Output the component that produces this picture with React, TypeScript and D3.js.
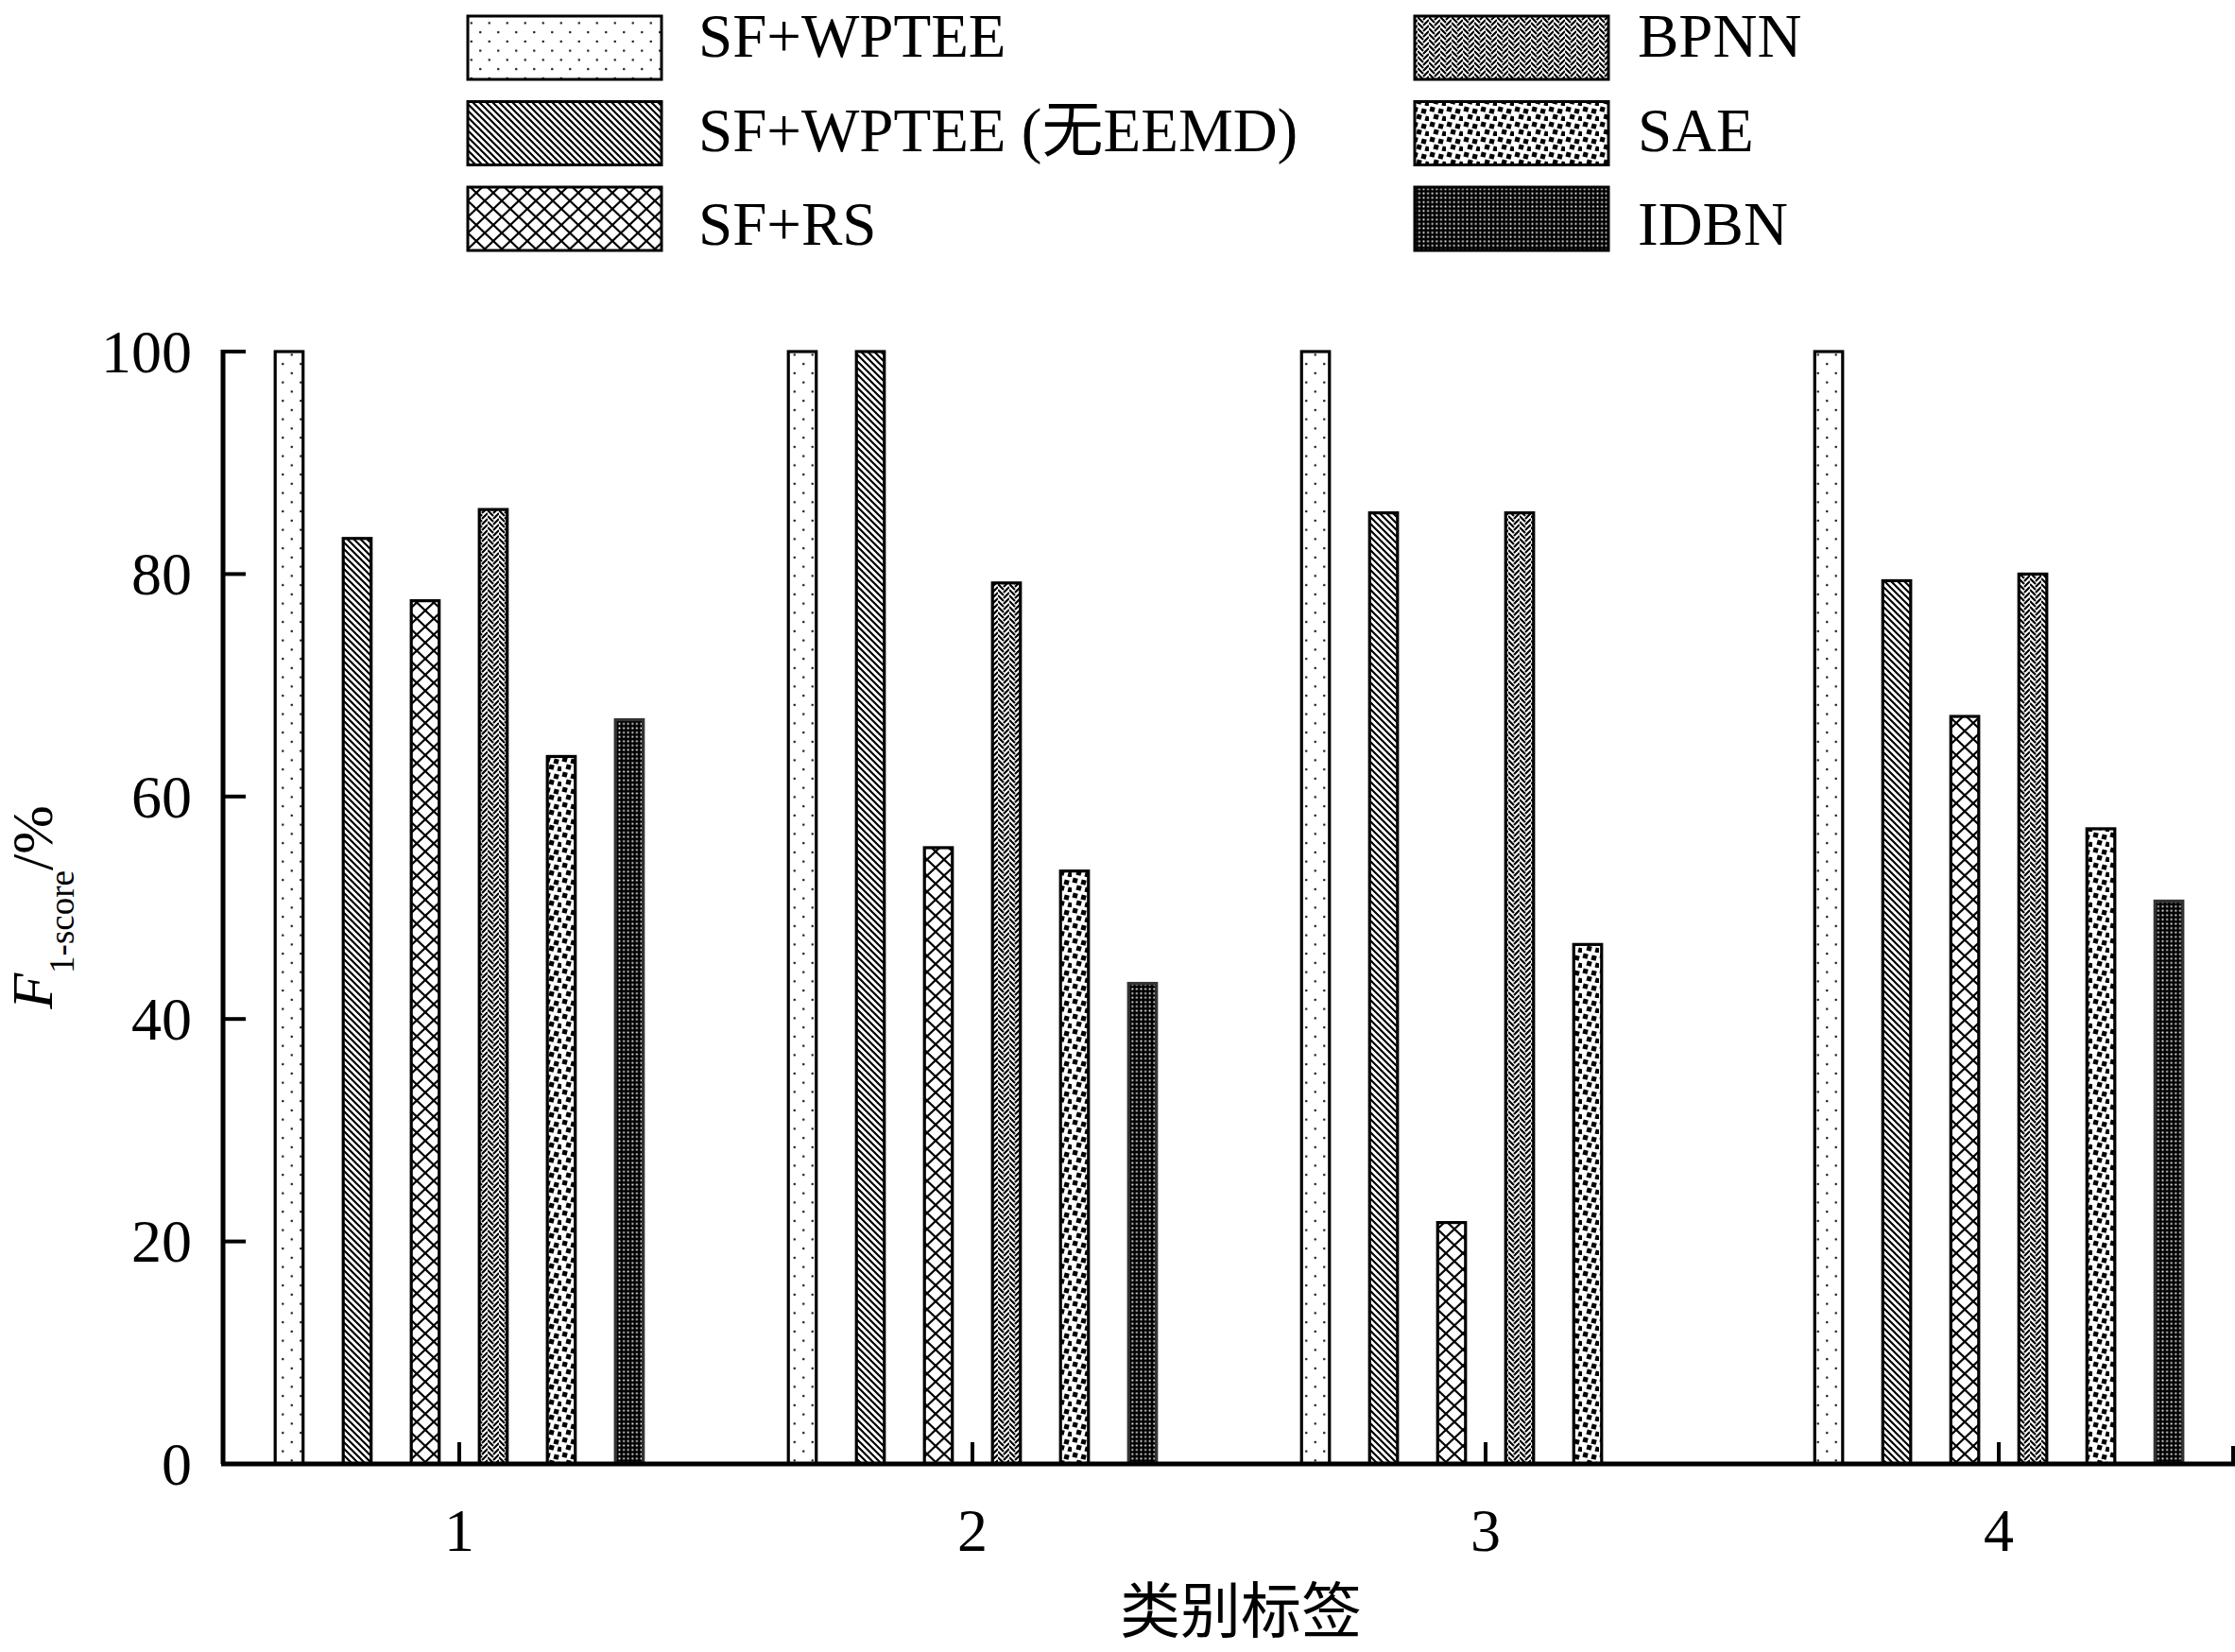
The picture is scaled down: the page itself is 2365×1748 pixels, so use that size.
import * as d3 from 'd3'

const categories = ['1', '2', '3', '4']
const seriesNames = ['SF+WPTEE', 'SF+WPTEE (无EEMD)', 'SF+RS', 'BPNN', 'SAE', 'IDBN']
const patternIds = ['pDots', 'pDiag', 'pCross', 'pWeave', 'pSpeckle', 'pDense']

const sfWptee = [100, 100, 100, 100]
const sfWpteeNoEemd = [83.2, 100, 85.5, 79.4]
const sfRs = [77.6, 55.4, 21.7, 67.2]
const bpnn = [85.8, 79.2, 85.5, 80.0]
const sae = [63.6, 53.3, 46.7, 57.1]
const idbn = [66.9, 43.2, 0, 50.6]
const seriesValues = [sfWptee, sfWpteeNoEemd, sfRs, bpnn, sae, idbn]

const yTicks = [0, 20, 40, 60, 80, 100]

const W = 2365
const H = 1748
const SERIF = '"Liberation Serif", "Times New Roman", "Noto Sans CJK SC", serif'
const CJK = '"Noto Sans CJK SC", sans-serif'

// plot frame
const axisLeft = 234
const axisRight = 2363
const yTop = 372
const yBottom = 1549

function Patterns() {
  return (
    <defs>
      <pattern id="pDots" patternUnits="userSpaceOnUse" width={19} height={19.5}>
        <rect width={19} height={19.5} fill="#fff" />
        <circle cx={4.75} cy={4.9} r={1.3} fill="#222" />
        <circle cx={14.25} cy={14.6} r={1.3} fill="#222" />
      </pattern>
      <pattern id="pDiag" patternUnits="userSpaceOnUse" width={7} height={7}>
        <rect width={7} height={7} fill="#fff" />
        <path d="M-1,-1 L8,8 M-1,6 L1,8 M6,-1 L8,1" stroke="#000" strokeWidth={2.2} />
      </pattern>
      <pattern id="pCross" patternUnits="userSpaceOnUse" width={18} height={17}>
        <rect width={18} height={17} fill="#fff" />
        <path d="M0,0 L18,17 M18,0 L0,17" stroke="#000" strokeWidth={2.2} />
      </pattern>
      <pattern id="pWeave" patternUnits="userSpaceOnUse" width={12} height={12}>
        <rect width={12} height={12} fill="#fff" />
        <path
          d="M0,-6 L6,0 M0,0 L6,6 M0,6 L6,12 M0,12 L6,18 M6,-3 L12,-9 M6,3 L12,-3 M6,9 L12,3 M6,15 L12,9"
          stroke="#000"
          strokeWidth={2.2}
        />
      </pattern>
      <pattern id="pSpeckle" patternUnits="userSpaceOnUse" width={18} height={16}>
        <rect width={18} height={16} fill="#fff" />
        {[[1, 1], [10, 3], [5, 9], [14, 11]].map(([x, y], i) => (
          <rect key={i} x={x} y={y} width={5.2} height={5.2} fill="#000"
            transform={`rotate(15 ${x + 2.6} ${y + 2.6})`} />
        ))}
      </pattern>
      <pattern id="pDense" patternUnits="userSpaceOnUse" width={4.6} height={4.6}>
        <rect width={4.6} height={4.6} fill="#000" />
        <rect x={1.4} y={1.4} width={1.8} height={1.8} fill="#fff" />
      </pattern>
    </defs>
  )
}

export default function App() {
  const x = d3.scalePoint<string>().domain(categories).range([238, axisRight]).padding(0.4566)
  const inner = d3.scaleBand<string>().domain(seriesNames).range([-216, 216])
    .paddingInner(0.59).paddingOuter(0.295)
  const y = d3.scaleLinear().domain([0, 100]).range([yBottom, yTop])

  return (
    <svg width={W} height={H} viewBox={`0 0 ${W} ${H}`}
      style={{ position: 'absolute', left: 0, top: 0, background: '#fff' }}>
      <Patterns />
      <rect width={W} height={H} fill="#fff" />

      {/* bars */}
      {seriesNames.map((name, s) =>
        categories.map((c, i) => {
          const v = seriesValues[s][i]
          if (!v) return null
          const bx = (x(c) ?? 0) + (inner(name) ?? 0)
          return (
            <rect key={`${s}-${i}`} x={bx} y={y(v)} width={inner.bandwidth()}
              height={y(0) - y(v)} fill={`url(#${patternIds[s]})`}
              stroke={s === 5 ? '#333' : '#000'} strokeWidth={3.2} />
          )
        })
      )}

      {/* y axis */}
      <line x1={axisLeft + 2} x2={axisLeft + 2} y1={yTop - 2} y2={yBottom} stroke="#000" strokeWidth={5} />
      {yTicks.map(t => (
        <g key={t}>
          <line x1={axisLeft} x2={axisLeft + 26} y1={y(t)} y2={y(t)} stroke="#000" strokeWidth={4} />
          <text x={203} y={y(t)} dy="0.34em" textAnchor="end" fontFamily={SERIF} fontSize={64}>{t}</text>
        </g>
      ))}

      {/* x axis */}
      <line x1={axisLeft} x2={axisRight + 2} y1={yBottom} y2={yBottom} stroke="#000" strokeWidth={5} />
      {categories.map(c => (
        <g key={c}>
          <line x1={x(c)} x2={x(c)} y1={yBottom} y2={yBottom - 23} stroke="#000" strokeWidth={4} />
          <text x={x(c)} y={1641} textAnchor="middle" fontFamily={SERIF} fontSize={64}>{c}</text>
        </g>
      ))}
      <line x1={axisRight} x2={axisRight} y1={yBottom} y2={yBottom - 19} stroke="#000" strokeWidth={4} />

      {/* axis titles */}
      <text x={1313} y={1727} textAnchor="middle" fontFamily={CJK} fontSize={64}>类别标签</text>
      <text transform="translate(55,960) rotate(-90)" textAnchor="middle" fontFamily={SERIF} fontSize={62}>
        <tspan fontStyle="italic">F</tspan>
        <tspan fontSize={37} dy={23}>1-score</tspan>
        <tspan dy={-23}>/%</tspan>
      </text>

      {/* legend */}
      {seriesNames.map((name, s) => {
        const col = Math.floor(s / 3)
        const row = s % 3
        const bx = col === 0 ? 495 : 1497
        const tx = col === 0 ? 739 : 1733
        return (
          <g key={name}>
            <rect x={bx} y={17 + row * 90.5} width={205} height={67}
              fill={`url(#${patternIds[s]})`} stroke="#000" strokeWidth={3} />
            <text x={tx} y={60 + row * 99.5} fontFamily={SERIF} fontSize={65}>{name}</text>
          </g>
        )
      })}
    </svg>
  )
}
